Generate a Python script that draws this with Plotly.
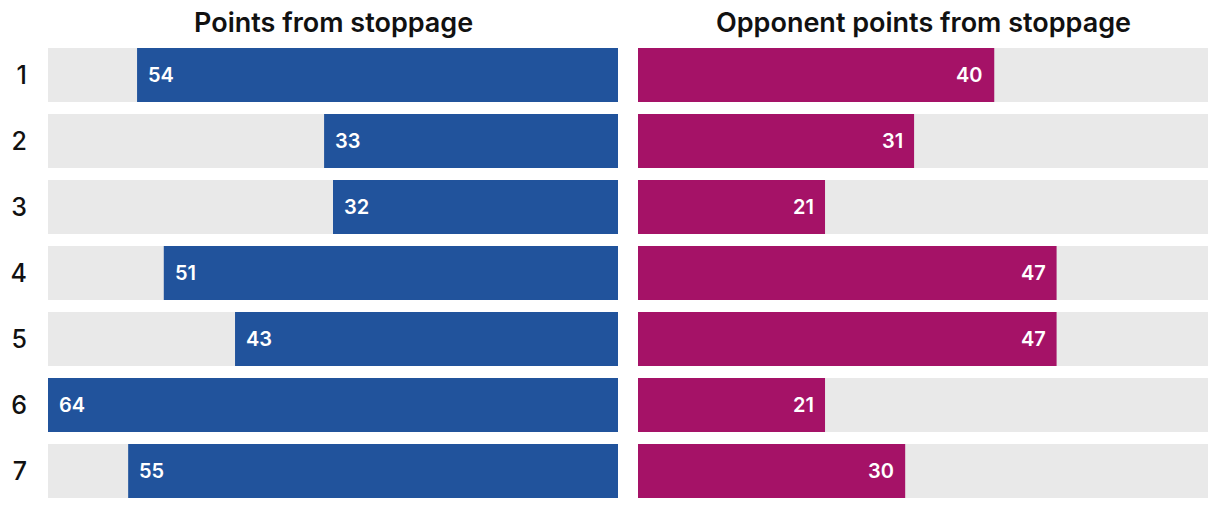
import plotly.graph_objects as go

rows = ["1", "2", "3", "4", "5", "6", "7"]
points_for = [54, 33, 32, 51, 43, 64, 55]
points_against = [40, 31, 21, 47, 47, 21, 30]
axis_max = 64
titles = ["Points from stoppage", "Opponent points from stoppage"]

BLUE = "#21539c"
MAGENTA = "#a51267"
GREY = "#e9e9e9"
FONT = "Inter"

pos = list(range(len(rows)))

fig = go.Figure()
full = [axis_max] * len(rows)
for xa, ya, vals, col in [("x", "y", points_for, BLUE), ("x2", "y2", points_against, MAGENTA)]:
    fig.add_trace(go.Bar(y=pos, x=full, orientation="h", marker=dict(color=GREY, line_width=0),
                         xaxis=xa, yaxis=ya, hoverinfo="skip", showlegend=False))
    fig.add_trace(go.Bar(y=pos, x=vals, orientation="h", marker=dict(color=col, line_width=0),
                         xaxis=xa, yaxis=ya, showlegend=False))

annotations = []
for p, v in zip(pos, points_for):
    annotations.append(dict(x=v, y=p, xref="x", yref="y", text=str(v), showarrow=False,
                            xanchor="left", xshift=9, font=dict(family=FONT, size=20, color="white", weight=600)))
for p, v in zip(pos, points_against):
    annotations.append(dict(x=v, y=p, xref="x2", yref="y2", text=str(v), showarrow=False,
                            xanchor="right", xshift=-9, font=dict(family=FONT, size=20, color="white", weight=600)))

PW, PH = 1160, 450
dom1 = [0, 570 / PW]
dom2 = [590 / PW, 1]
for dom, t in zip([dom1, dom2], titles):
    annotations.append(dict(x=(dom[0] + dom[1]) / 2, y=1 + 26 / PH, xref="paper", yref="paper", text=t,
                            showarrow=False, xanchor="center", yanchor="middle",
                            font=dict(family=FONT, size=27, color="#111111", weight=600)))

# bar 54 px tall with a 12 px gap -> pitch 66 px; first bar touches top of plot area
half = 27 / 66
yax = dict(range=[len(rows) - 1 + half, -half], showgrid=False, zeroline=False, automargin=False, fixedrange=True)

fig.update_layout(
    width=1220, height=508,
    margin=dict(l=48, r=12, t=48, b=10),
    paper_bgcolor="white", plot_bgcolor="white",
    barmode="overlay", bargap=12 / 66,
    xaxis=dict(domain=dom1, range=[axis_max, 0], visible=False, fixedrange=True, automargin=False),
    xaxis2=dict(domain=dom2, range=[0, axis_max], visible=False, fixedrange=True, automargin=False),
    yaxis=dict(**yax, tickvals=pos, ticktext=rows, ticks="", ticklabelstandoff=20,
               tickfont=dict(family=FONT, size=25, color="#111111", weight=500)),
    yaxis2=dict(**yax, anchor="x2", showticklabels=False),
    annotations=annotations,
    font=dict(family=FONT),
)

fig.write_html("out.html", config={"displayModeBar": False},
               post_script="document.body.style.margin='0';")
